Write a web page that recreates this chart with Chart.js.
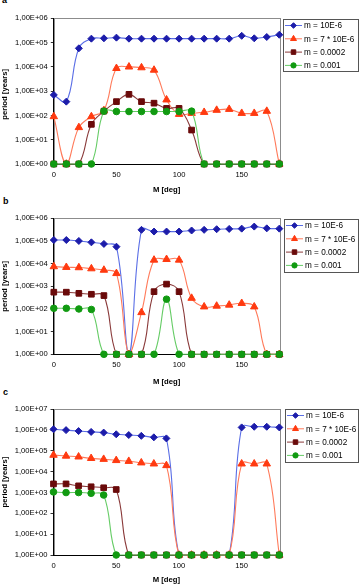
<!DOCTYPE html>
<html><head><meta charset="utf-8">
<script src="https://cdn.jsdelivr.net/npm/chart.js@4"></script>
<style>
html,body{margin:0;padding:0;background:#fff;width:360px;height:585px;overflow:hidden;position:relative;}
canvas{position:absolute;left:0;top:0;}
.lbl{position:absolute;font:bold 9px "Liberation Sans",Arial,sans-serif;line-height:9px;color:#000;}
</style></head><body>
<div class="lbl" style="left:2px;top:-4px">a</div>
<div class="lbl" style="left:3px;top:197px">b</div>
<div class="lbl" style="left:3px;top:388px">c</div>
<canvas id="ca" width="360" height="585"></canvas>
<canvas id="cb" width="360" height="585"></canvas>
<canvas id="cc" width="360" height="585"></canvas>
<script>
// ---------- data ----------
const M = [0,10,20,30,40,50,60,70,80,90,100,110,120,130,140,150,160,170,180];
const seriesLabels = ['m = 10E-6','m = 7 * 10E-6','m = 0.0002','m = 0.001'];
const xTicks = [0,50,100,150];
const yTicks6 = [1,10,100,1000,10000,100000,1000000];
const yTickLabels6 = ['1,00E+00','1,00E+01','1,00E+02','1,00E+03','1,00E+04','1,00E+05','1,00E+06'];
const yTicks7 = [1,10,100,1000,10000,100000,1000000,10000000];
const yTickLabels7 = ['1,00E+00','1,00E+01','1,00E+02','1,00E+03','1,00E+04','1,00E+05','1,00E+06','1,00E+07'];

// panel a
const blueA   = [700,370,58000,145000,150000,160000,145000,145000,145000,145000,145000,145000,145000,145000,145000,190000,150000,170000,210000];
const orangeA = [90,1,32,90,160,8700,10000,9300,7400,440,112,123,135,165,180,123,123,150,1];
const brownA  = [1,1,1,43,150,370,740,370,320,195,195,25,1,1,1,1,1,1,1];
const greenA  = [1,1,1,1,150,145,145,145,145,145,145,150,1,1,1,1,1,1,1];
// panel b
const blueB   = [110000,110000,100000,87000,74000,56000,1,310000,260000,260000,260000,290000,310000,330000,340000,350000,430000,360000,350000];
const orangeB = [7400,6900,6700,6000,5200,3700,1,70,14500,15500,14500,300,125,135,150,178,125,1,1];
const brownB  = [550,550,490,445,390,1,1,1,580,1250,580,1,1,1,1,1,1,1,1];
const greenB  = [107,107,100,95,1,1,1,1,1,270,1,1,1,1,1,1,1,1,1];
// panel c
const blueC   = [1100000,1000000,900000,820000,760000,630000,580000,530000,450000,400000,1,1,1,1,1,1350000,1450000,1450000,1350000];
const orangeC = [63000,57000,52000,44000,40000,35000,32000,27000,24000,20000,1,1,1,1,1,24000,24000,24000,1];
const brownC  = [2600,2600,2100,1900,1700,1400,1,1,1,1,1,1,1,1,1,1,1,1,1];
const greenC  = [1070,1000,1000,920,760,1,1,1,1,1,1,1,1,1,1,1,1,1,1];

// ---------- styles ----------
const FONT = '"Liberation Sans", Arial, sans-serif';
const lineColors = ['#5a6ee6','#ff7a5a','#8a3a3a','#66cc66'];
const markColors = ['#1c1caa','#ff3a10','#6a0a0a','#119a11'];
const pointStyles = ['rectRot','triangle','rect','circle'];
const pointRadii = [3.5,4.3,4,3.3];

const framePlugin = {
  id:'frame',
  beforeDraw(chart){
    const a = chart.chartArea, ctx = chart.ctx;
    ctx.save();
    ctx.strokeStyle = '#8c8c8c'; ctx.lineWidth = 1;
    ctx.strokeRect(Math.round(a.left)+0.5, Math.round(a.top)+0.5, Math.round(a.right-a.left), Math.round(a.bottom-a.top));
    ctx.restore();
  }
};
function legendPlugin(box){
  return {
    id:'boxLegend',
    afterDraw(chart){
      const ctx = chart.ctx;
      ctx.save();
      ctx.fillStyle = '#fff';
      ctx.fillRect(box.x, box.y, box.w, box.h);
      ctx.strokeStyle = '#555'; ctx.lineWidth = 1;
      ctx.strokeRect(box.x+0.5, box.y+0.5, box.w, box.h);
      chart.data.datasets.forEach((ds,i)=>{
        const y = box.y + 6 + i*13.3;
        ctx.strokeStyle = ds.borderColor; ctx.lineWidth = 1;
        ctx.beginPath(); ctx.moveTo(box.x+2, y+0.5); ctx.lineTo(box.x+19, y+0.5); ctx.stroke();
        ctx.fillStyle = ds.pointBackgroundColor; ctx.strokeStyle = ds.pointBorderColor;
        Chart.helpers.drawPoint(ctx, {pointStyle: ds.pointStyle, radius: ds.pointRadius*0.8, borderWidth: 1, rotation: 0}, box.x+10.5, y+0.5);
        ctx.fillStyle = '#000';
        ctx.font = '8.2px ' + FONT;
        ctx.textBaseline = 'middle'; ctx.textAlign = 'left';
        ctx.fillText(ds.label, box.x+21, y+1);
      });
      ctx.restore();
    }
  };
}

function makeChart(id, series, yMax, yTickVals, yTickLabels, area, axisBottom, box, yTitle){
  new Chart(document.getElementById(id), {
    type:'line',
    data:{
      datasets: series.map((s,i)=>({
        label: seriesLabels[i],
        data: M.map((x,j)=>({x:x, y:s[j]})),
        borderColor: lineColors[i],
        borderWidth: 1.1,
        backgroundColor: markColors[i],
        pointBackgroundColor: markColors[i],
        pointBorderColor: markColors[i],
        pointBorderWidth: 1,
        pointStyle: pointStyles[i],
        pointRadius: pointRadii[i],
        tension: 0.4,
        fill: false,
        clip: 6,
        order: 4-i
      }))
    },
    options:{
      responsive:false, animation:false, devicePixelRatio:1,
      events: [],
      layout:{padding:{top:area.top, left:0, right:360-area.right, bottom:585-axisBottom}},
      plugins:{legend:{display:false}, tooltip:{enabled:false}},
      scales:{
        x:{
          type:'linear', min:0, max:180,
          afterBuildTicks: s => { s.ticks = xTicks.map(v=>({value:v})); },
          afterFit: s => { s.height = axisBottom - area.bottom; },
          ticks:{font:{family:FONT, size:7.6}, color:'#000', padding:6, maxRotation:0, autoSkip:false},
          grid:{drawOnChartArea:false, drawTicks:false},
          border:{color:'#000', width:1},
          title:{display:true, text:'M [deg]', font:{family:FONT, size:7.7, weight:'bold'}, color:'#000', padding:0}
        },
        y:{
          type:'logarithmic', min:1, max:yMax,
          afterBuildTicks: s => { s.ticks = yTickVals.map(v=>({value:v})); },
          afterFit: s => { s.width = area.left; },
          ticks:{font:{family:FONT, size:7.6}, color:'#000', padding:3, autoSkip:false,
                 callback:(v,i)=>yTickLabels[i]},
          grid:{drawOnChartArea:false, drawTicks:true, tickLength:3, color:'#333'},
          border:{color:'#000', width:1},
          title:{display:true, text:yTitle, font:{family:FONT, size:7.7, weight:'bold'}, color:'#000', padding:0}
        }
      }
    },
    plugins:[framePlugin, legendPlugin(box)]
  });
}

makeChart('ca', [blueA,orangeA,brownA,greenA], 1e6, yTicks6, yTickLabels6,
  {top:18.3, bottom:164, left:53.8, right:279.3}, 195, {x:283,y:19,w:75,h:52}, 'period [years]   ');
makeChart('cb', [blueB,orangeB,brownB,greenB], 1e6, yTicks6, yTickLabels6,
  {top:218.3, bottom:354.3, left:53.8, right:279.3}, 386.8, {x:284,y:219,w:74,h:53}, 'period [years]');
makeChart('cc', [blueC,orangeC,brownC,greenC], 1e7, yTicks7, yTickLabels7,
  {top:409.3, bottom:555, left:53.5, right:279.3}, 585, {x:285,y:409,w:73,h:53}, 'period [years]');
</script>
</body></html>
